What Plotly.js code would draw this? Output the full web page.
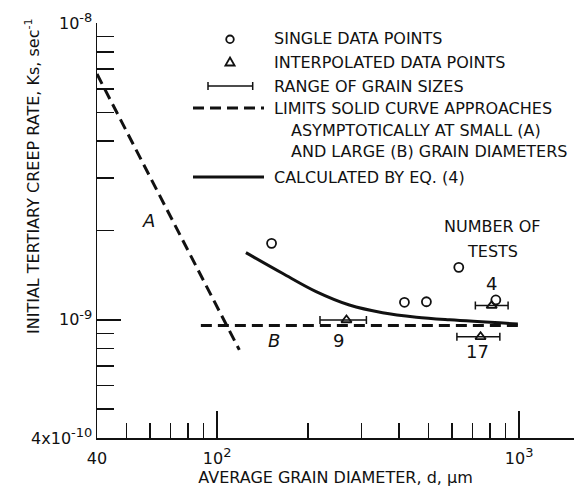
<!DOCTYPE html>
<html>
<head>
<meta charset="utf-8">
<script src="https://cdn.plot.ly/plotly-3.0.1.min.js"></script>
<style>html,body{margin:0;padding:0;background:#fff;}#chart{width:587px;height:490px;}</style>
</head>
<body>
<div id="chart"></div>
<script>
// ---- data ----
const limitAX = [40, 118.4];
const limitAY = [6.73e-9, 7.92e-10];
const limitBX = [88.3, 993];
const limitBY = [9.57e-10, 9.57e-10];
const calcX = [124.5, 164.4, 212.6, 274, 352.9, 456.6, 589, 990];
const calcY = [1.684e-9, 1.435e-9, 1.245e-9, 1.122e-9, 1.057e-9, 1.021e-9, 1.0e-9, 0.969e-9];
const singleX = [151.4, 417, 493, 631, 837];
const singleY = [1.81e-9, 1.146e-9, 1.151e-9, 1.503e-9, 1.167e-9];
const interpX = [268, 811, 745];
const interpY = [0.999e-9, 1.117e-9, 0.877e-9];
const interpLo = [219, 716, 622];
const interpHi = [312, 919, 863];
const testCounts = ['9', '4', '17'];
const xTickVals = [40, 100, 1000];
const xTickText = ['40', '10<sup><span style="font-size:13px">2</span></sup>', '10<sup><span style="font-size:13px">3</span></sup>'];
const xMinorVals = [50, 60, 70, 80, 90, 200, 300, 400, 500, 600, 700, 800, 900];
const yTickVals = [4e-10, 1e-9, 1e-8];
const yTickText = ['4x10<sup><span style="font-size:13px">-10</span></sup>', '10<sup><span style="font-size:13px">-9</span></sup>', '10<sup><span style="font-size:13px">-8</span></sup>'];
const yMinorVals = [5e-10, 6e-10, 7e-10, 8e-10, 9e-10, 2e-9, 3e-9, 4e-9, 5e-9, 6e-9, 7e-9, 8e-9, 9e-9];
const legendTexts = ['SINGLE DATA POINTS', 'INTERPOLATED DATA POINTS', 'RANGE OF GRAIN SIZES',
  'LIMITS SOLID CURVE APPROACHES', 'ASYMPTOTICALLY AT SMALL (A)', 'AND LARGE (B) GRAIN DIAMETERS',
  'CALCULATED BY EQ. (4)'];

// ---- layout helpers (pixel -> paper) ----
const M = {l: 97, r: 13, t: 23, b: 52};
const W = 587, H = 490;
const PW = W - M.l - M.r, PH = H - M.t - M.b;
const px = x => (x - M.l) / PW;
const py = y => (H - M.b - y) / PH;
const FONT = 'DejaVu Sans';
const K = '#111';

const dashStyle = '11px,6px';
const traces = [
  {x: limitAX, y: limitAY, mode: 'lines', line: {color: K, width: 3, dash: dashStyle}, hoverinfo: 'skip'},
  {x: limitBX, y: limitBY, mode: 'lines', line: {color: K, width: 3, dash: dashStyle}, hoverinfo: 'skip'},
  {x: calcX, y: calcY, mode: 'lines', line: {color: K, width: 3, shape: 'spline'}, hoverinfo: 'skip'},
  {x: singleX, y: singleY, mode: 'markers',
   marker: {symbol: 'circle-open', size: 9, color: K, line: {width: 1.8, color: K}}},
  {x: interpX, y: interpY, mode: 'markers',
   marker: {symbol: 'triangle-up-open', size: 9, color: K, line: {width: 1.8, color: K}},
   error_x: {type: 'data', symmetric: false,
     array: interpX.map((v, i) => interpHi[i] - v),
     arrayminus: interpX.map((v, i) => v - interpLo[i]),
     color: K, thickness: 1.5, width: 4}}
];

const ann = [];
function txt(x, y, t, opts) {
  ann.push(Object.assign({xref: 'paper', yref: 'paper', x: px(x), y: py(y), text: t, showarrow: false,
    font: {family: FONT, size: 16, color: K}, xanchor: 'center', yanchor: 'middle'}, opts || {}));
}
const big = {font: {family: FONT, size: 18, color: K}};
// curve labels
txt(148, 221, '<i>A</i>', big);
txt(274, 340, '<i>B</i>', big);
txt(338, 340, testCounts[0], big);
txt(491, 283, testCounts[1], big);
txt(477, 351, testCounts[2], big);
txt(492, 227, 'NUMBER OF');
txt(492, 251, 'TESTS');
// legend text
const legY = [39, 62, 86, 108, 130, 151, 177];
const legX = [272, 272, 272, 272, 289, 289, 272];
legendTexts.forEach((t, i) => txt(legX[i], legY[i], t, {xanchor: 'left'}));
// y axis title
txt(32, 176, 'INITIAL TERTIARY CREEP RATE, Ks, sec<sup>-1</sup>', {textangle: -90});

const shapes = [];
function seg(x0, y0, x1, y1, w, dash) {
  shapes.push({type: 'line', xref: 'paper', yref: 'paper', x0: px(x0), y0: py(y0), x1: px(x1), y1: py(y1),
    line: {color: K, width: w, dash: dash || 'solid'}});
}
// legend symbols
shapes.push({type: 'circle', xref: 'paper', yref: 'paper', x0: px(226.2), x1: px(233.8), y0: py(43.1), y1: py(35.5),
  line: {color: K, width: 1.8}});
shapes.push({type: 'path', xref: 'paper', yref: 'paper',
  path: `M ${px(230)},${py(57.5)} L ${px(234.6)},${py(65.5)} L ${px(225.4)},${py(65.5)} Z`,
  line: {color: K, width: 1.8}});
seg(208, 86, 252.7, 86, 1.5);
seg(208, 82, 208, 90, 1.5);
seg(252.7, 82, 252.7, 90, 1.5);
seg(193, 108, 264, 108, 3, dashStyle);
seg(193, 177, 264, 177, 3);

const layout = {
  width: W, height: H,
  margin: M,
  paper_bgcolor: '#fff', plot_bgcolor: '#fff',
  showlegend: false,
  font: {family: FONT, color: K, size: 16},
  xaxis: {
    type: 'log', range: [Math.log10(40), Math.log10(1519)],
    showgrid: false, zeroline: false, showline: true, linecolor: K, linewidth: 1.5,
    ticks: 'inside', ticklen: 27, tickwidth: 1.5, tickcolor: K,
    tickmode: 'array', tickvals: xTickVals, ticktext: xTickText,
    ticklabelstandoff: 5,
    tickfont: {family: FONT, size: 16, color: K},
    minor: {tickmode: 'array', tickvals: xMinorVals, ticks: 'inside', ticklen: 15, tickwidth: 1.5, tickcolor: K, showgrid: false},
    title: {text: 'AVERAGE GRAIN DIAMETER, d, \u00b5m', font: {family: FONT, size: 16, color: K}, standoff: 4}
  },
  yaxis: {
    type: 'log', range: [Math.log10(4e-10), -8],
    showgrid: false, zeroline: false, showline: true, linecolor: K, linewidth: 1.5,
    ticks: 'inside', ticklen: 24, tickwidth: 1.5, tickcolor: K,
    tickmode: 'array', tickvals: yTickVals, ticktext: yTickText,
    tickfont: {family: FONT, size: 16, color: K},
    minor: {tickmode: 'array', tickvals: yMinorVals, ticks: 'inside', ticklen: 17, tickwidth: 1.5, tickcolor: K, showgrid: false}
  },
  annotations: ann,
  shapes: shapes
};

Plotly.newPlot('chart', traces, layout, {staticPlot: true, displayModeBar: false});
</script>
</body>
</html>
